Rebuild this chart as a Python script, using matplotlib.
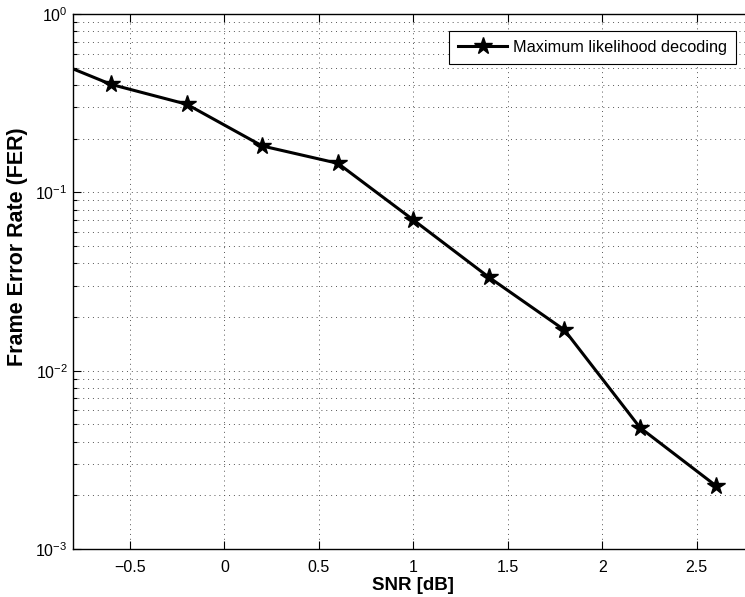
import matplotlib
matplotlib.use('Agg')
import matplotlib.pyplot as plt
from matplotlib.ticker import LogLocator, NullFormatter

# data
snr_db = [-1.0, -0.6, -0.2, 0.2, 0.6, 1.0, 1.4, 1.8, 2.2, 2.6]
fer = [0.60, 0.403, 0.312, 0.182, 0.1455, 0.070, 0.0334, 0.0169, 0.00479, 0.00227]
x_ticks = [-0.5, 0, 0.5, 1, 1.5, 2, 2.5]
x_tick_labels = ['\u22120.5', '0', '0.5', '1', '1.5', '2', '2.5']
series_label = 'Maximum likelihood decoding'

plt.rcParams['font.family'] = ['Liberation Sans', 'DejaVu Sans']
plt.rcParams['mathtext.fontset'] = 'custom'
plt.rcParams['mathtext.rm'] = 'Liberation Sans'
plt.rcParams['mathtext.it'] = 'Liberation Sans'

W, H = 745, 597
fig = plt.figure(figsize=(W / 100, H / 100), dpi=100)
# the reference is cropped on the right, so the axes run past the canvas
ax = fig.add_axes([73.3 / W, 48 / H, (753.4 - 73.3) / W, (549 - 14) / H])

ax.semilogy(snr_db, fer, color='black', linewidth=2.2, marker='*',
            markersize=13, label=series_label)

ax.set_xlim(-0.8, 2.8)
ax.set_ylim(1e-3, 1)
ax.set_xticks(x_ticks)
ax.set_xticklabels(x_tick_labels)
ax.yaxis.set_major_locator(LogLocator(base=10, numticks=10))
ax.yaxis.set_minor_locator(LogLocator(base=10, subs=range(2, 10), numticks=10))
ax.yaxis.set_minor_formatter(NullFormatter())

ax.grid(True, which='major', color='#555555', linestyle=(0, (1, 4)), linewidth=0.7)
ax.grid(True, which='minor', axis='y', color='#555555', linestyle=(0, (1, 4)), linewidth=0.7)

ax.tick_params(which='both', direction='in', top=True, right=True, width=0.8)
ax.tick_params(which='major', length=6)
ax.tick_params(which='minor', length=3)
ax.tick_params(axis='x', which='major', labelsize=11.5, pad=8)
ax.tick_params(axis='y', which='major', labelsize=11.5, pad=4)
for sp in ax.spines.values():
    sp.set_linewidth(1.0)

ax.set_xlabel('SNR [dB]', fontsize=13.5, fontweight='bold', labelpad=1)
ax.set_ylabel('Frame Error Rate (FER)', fontsize=15.5, fontweight='bold')
# label sits a bit above the axes centre in the reference
ax.yaxis.set_label_coords(-0.066, 0.565)

leg = ax.legend(loc='upper right', bbox_to_anchor=(736 / W, 1 - 31 / H),
                bbox_transform=fig.transFigure, fontsize=11.7, fancybox=False,
                framealpha=1, edgecolor='black', borderpad=0.55, handlelength=3.0,
                handletextpad=0.37, borderaxespad=0)
leg.get_frame().set_linewidth(0.8)

plt.savefig('out.png', dpi=100)
plt.close(fig)
